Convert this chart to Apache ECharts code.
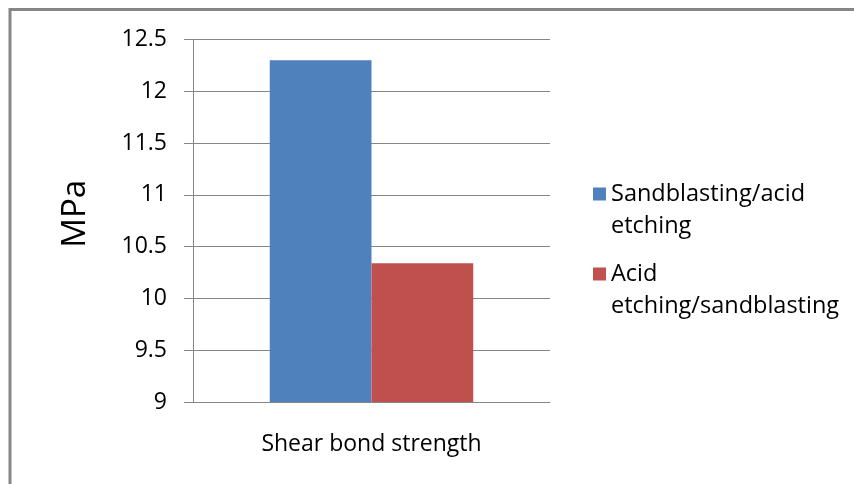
<!DOCTYPE html>
<html>
<head>
<meta charset="utf-8">
<script src="https://cdn.jsdelivr.net/npm/echarts@6/dist/echarts.min.js"></script>
<style>
  html, body { margin: 0; padding: 0; background: #ffffff; }
  #chart { width: 854px; height: 484px; }
</style>
</head>
<body>
<div id="chart"></div>
<script>
// Shear bond strength by surface treatment order (MPa)
const categories = ['Shear bond strength'];
const seriesNames = ['Sandblasting/acid etching', 'Acid etching/sandblasting'];
// Legend entries wrap onto two lines; the leading blank line keeps the
// swatch level with the first line of text.
const legendLines = {
  'Sandblasting/acid etching': '\nSandblasting/acid\netching',
  'Acid etching/sandblasting': '\nAcid\netching/sandblasting'
};
const sandblastAcid = [12.3];
const acidSandblast = [10.34];
const yTicks = { min: 9, max: 12.5, step: 0.5 };
const colors = ['#4F81BD', '#C0504D'];

const FONT = '"Open Sans", "Noto Sans", sans-serif';
const GRID = '#868686';

const chart = echarts.init(document.getElementById('chart'), null, { renderer: 'canvas' });

chart.setOption({
  animation: false,
  backgroundColor: '#ffffff',
  color: colors,
  textStyle: { fontFamily: FONT },
  grid: { left: 193, right: 304, top: 39.5, bottom: 82, containLabel: false },
  graphic: [
    {
      type: 'rect',
      shape: { x: 10, y: 9.5, width: 900, height: 600 },
      style: { fill: 'none', stroke: GRID, lineWidth: 3 },
      silent: true
    }
  ],
  legend: {
    orient: 'vertical',
    left: 593,
    top: 146,
    padding: 0,
    itemWidth: 13,
    itemHeight: 13,
    itemGap: -16,
    icon: 'rect',
    data: seriesNames,
    formatter: name => legendLines[name],
    textStyle: {
      fontFamily: FONT,
      fontSize: 23.5,
      lineHeight: 32,
      color: '#000000'
    }
  },
  xAxis: {
    type: 'category',
    data: categories,
    axisLine: { show: true, lineStyle: { color: GRID, width: 1 } },
    axisTick: { show: false },
    axisLabel: { color: '#000000', fontSize: 23, fontFamily: FONT, margin: 31 },
    splitLine: { show: false }
  },
  yAxis: {
    type: 'value',
    min: yTicks.min,
    max: yTicks.max,
    interval: yTicks.step,
    name: 'MPa',
    nameLocation: 'middle',
    nameRotate: 90,
    nameGap: 101,
    nameTextStyle: { fontFamily: FONT, fontSize: 33, color: '#000000', padding: [0, 0, 0, 14] },
    axisLine: { show: true, lineStyle: { color: GRID, width: 1 } },
    axisTick: { show: true, length: 9, inside: false, lineStyle: { color: GRID, width: 1 } },
    axisLabel: {
      color: '#000000', fontSize: 23, fontFamily: FONT, margin: 26,
      formatter: v => String(v)
    },
    splitLine: { show: true, lineStyle: { color: GRID, width: 1 } }
  },
  series: [
    {
      name: seriesNames[0],
      type: 'bar',
      data: sandblastAcid,
      barGap: '0%',
      barCategoryGap: '43%',
      itemStyle: { color: colors[0] }
    },
    {
      name: seriesNames[1],
      type: 'bar',
      data: acidSandblast,
      barGap: '0%',
      barCategoryGap: '43%',
      itemStyle: { color: colors[1] }
    }
  ]
});
</script>
</body>
</html>
